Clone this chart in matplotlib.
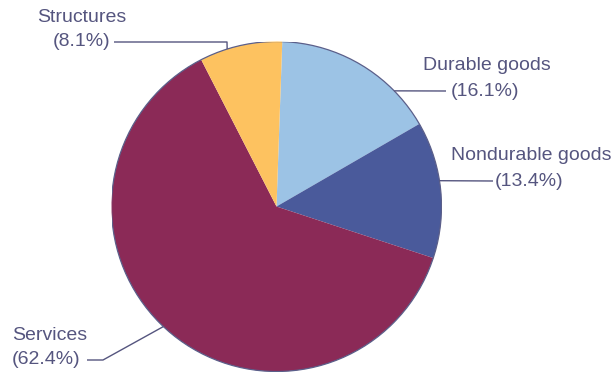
import matplotlib
matplotlib.use("Agg")
import matplotlib.pyplot as plt
import numpy as np
from matplotlib.patches import Circle

categories = ["Durable goods", "Nondurable goods", "Services", "Structures"]
shares = [16.1, 13.4, 62.4, 8.1]
colors = ["#9cc3e5", "#4a5a9b", "#8b2a57", "#fdc260"]

W, H = 613, 374
CX, CY, R = 276.5, 206.5, 165
TXT = "#55557f"

fig = plt.figure(figsize=(W / 100, H / 100), dpi=100)
fig.patch.set_facecolor("white")
ax = fig.add_axes([(CX - R) / W, (H - CY - R) / H, 2 * R / W, 2 * R / H])
ax.axis("off")

wedges, _ = ax.pie(shares, colors=colors, startangle=88, counterclock=False,
                   radius=1, center=(0, 0), frame=False,
                   wedgeprops=dict(linewidth=0))
ax.set_xlim(-1, 1)
ax.set_ylim(-1, 1)
ax.set_aspect("equal")
ax.add_patch(Circle((0, 0), 1, fill=False, edgecolor="#5b5f8a", linewidth=0.9))


def P(x, y):
    """pixel (top-left origin) -> data coords"""
    return ((x - CX) / R, (CY - y) / R)


def edge(angle):
    a = np.deg2rad(angle)
    return (np.cos(a), np.sin(a))


fs = 14
font = "Liberation Sans"


def label(name, pct, npos, ppos, ha):
    x, y = P(*npos)
    ax.text(x, y, name, ha=ha, va="center", fontsize=fs, color=TXT,
            family=font, clip_on=False)
    x, y = P(*ppos)
    ax.text(x, y, pct, ha=ha, va="center", fontsize=fs, color=TXT,
            family=font, clip_on=False)


def leader(points_px, angle):
    pts = [P(*p) for p in points_px] + [edge(angle)]
    xs, ys = zip(*pts)
    ax.plot(xs, ys, color=TXT, linewidth=1.0, clip_on=False,
            solid_capstyle="butt")


label(categories[0], f"({shares[0]}%)", (486.5, 66), (485, 91), "center")
leader([(446, 91)], 44.5)

label(categories[1], f"({shares[1]}%)", (531, 155), (529.5, 181), "center")
leader([(493, 181)], 9.0)

label(categories[2], f"({shares[2]}%)", (12, 336), (12, 360), "left")
leader([(87, 360), (103, 360)], 226.7)

label(categories[3], f"({shares[3]}%)", (82, 17), (82, 42), "center")
leader([(114, 42), (227, 42)], 107.4)

fig.savefig("out.png", dpi=100, facecolor="white")
